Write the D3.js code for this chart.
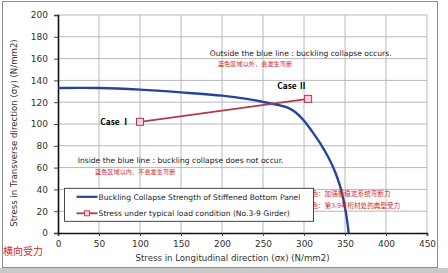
<!DOCTYPE html>
<html>
<head>
<meta charset="utf-8">
<script src="https://cdn.jsdelivr.net/npm/d3@7"></script>
<style>
  body { margin: 0; background: #fff; }
  text { font-family: "DejaVu Sans", Verdana, sans-serif; }
</style>
</head>
<body>
<div id="chart"></div>
<script>
// data
var strengthX = [0, 50, 100, 150, 200, 230, 255, 280, 290, 300, 310, 320, 330, 338, 344, 348, 351, 353, 354.5];
var strengthY = [133, 133, 131.5, 129, 126, 123, 119.5, 115, 110.5, 103, 93, 82, 69, 56, 43, 31, 19, 9, 0];
var loadX = [100, 305];
var loadY = [102, 123];
var caseLabels = ["Case  Ⅰ", "Case  Ⅱ"];
var xTicks = [0, 50, 100, 150, 200, 250, 300, 350, 400, 450];
var yTicks = [0, 20, 40, 60, 80, 100, 120, 140, 160, 180, 200];
var legendNames = ["Buckling Collapse Strength of Stiffened Bottom Panel",
                   "Stress under typical load condition (No.3-9 Girder)"];

var W = 448, H = 273;
var margin = {top: 15, right: 21, bottom: 40, left: 58},
    width = W - margin.left - margin.right,
    height = 233 - margin.top;

var blue = "#24469a", red = "#b5384a", redText = "#d22a2a";
var cjk = "'Noto Sans CJK SC', sans-serif";

var root = d3.select("#chart").append("svg")
    .attr("width", W).attr("height", H);

// gray band at the very bottom and outer frame
root.append("rect").attr("x", 0).attr("y", 268).attr("width", W).attr("height", 5).attr("fill", "#c9c9c9");
root.append("rect").attr("x", 2.5).attr("y", 1.5).attr("width", 435).attr("height", 266)
    .attr("fill", "none").attr("stroke", "#8c8c8c").attr("stroke-width", 1);

var svg = root.append("g")
    .attr("transform", "translate(" + margin.left + "," + margin.top + ")");

var x = d3.scaleLinear().domain([0, 450]).range([0, width]);
var y = d3.scaleLinear().domain([0, 200]).range([height, 0]);

// grid
svg.append("g").selectAll("line").data(xTicks.slice(1)).enter().append("line")
    .attr("x1", d => x(d)).attr("x2", d => x(d)).attr("y1", 0).attr("y2", height)
    .attr("stroke", "#b8b8b8");
svg.append("g").selectAll("line").data(yTicks.slice(1)).enter().append("line")
    .attr("x1", 0).attr("x2", width).attr("y1", d => y(d)).attr("y2", d => y(d))
    .attr("stroke", "#b8b8b8");

// axes
var xAxis = svg.append("g").attr("transform", "translate(0," + height + ")")
    .call(d3.axisBottom(x).tickValues(xTicks).tickSize(3).tickPadding(5));
var yAxis = svg.append("g")
    .call(d3.axisLeft(y).tickValues(yTicks).tickSize(4).tickPadding(6));
[xAxis, yAxis].forEach(function(a) {
  a.select(".domain").attr("stroke", "#111").attr("stroke-width", 1.6);
  a.selectAll(".tick line").attr("stroke", "#444");
  a.selectAll("text").attr("font-size", 9).attr("fill", "#333")
    .style("font-family", "'DejaVu Sans', sans-serif");
});

// axis titles
svg.append("text").attr("x", x(225) - 10).attr("y", height + 28)
    .attr("text-anchor", "middle").attr("font-size", 8.6).attr("fill", "#333")
    .text("Stress in Longitudinal direction  (σx)   (N/mm2)");
root.append("text").attr("transform", "translate(17,133) rotate(-90)")
    .attr("text-anchor", "middle").attr("font-size", 8.6).attr("fill", "#333")
    .text("Stress in Transverse direction  (σy)      (N/mm2)");
root.append("text").attr("x", 3).attr("y", 255).attr("font-size", 10)
    .attr("fill", redText).style("font-family", cjk).text("横向受力");

// curves
var strength = strengthX.map((d, i) => [d, strengthY[i]]);
var load = loadX.map((d, i) => [d, loadY[i]]);

svg.append("path").datum(strength)
    .attr("d", d3.line().x(d => x(d[0])).y(d => y(d[1])).curve(d3.curveCatmullRom.alpha(0.5)))
    .attr("fill", "none").attr("stroke", blue).attr("stroke-width", 2.4);
svg.append("path").datum(load)
    .attr("d", d3.line().x(d => x(d[0])).y(d => y(d[1])))
    .attr("fill", "none").attr("stroke", red).attr("stroke-width", 1.8);
svg.selectAll(".mk").data(load).enter().append("rect")
    .attr("x", d => x(d[0]) - 3.5).attr("y", d => y(d[1]) - 3.5)
    .attr("width", 7).attr("height", 7)
    .attr("fill", "#f6d2dc").attr("stroke", red).attr("stroke-width", 1);

// case labels
svg.append("text").attr("x", x(loadX[0]) - 10).attr("y", y(loadY[0]) + 3)
    .attr("text-anchor", "end").attr("font-size", 8.4).attr("font-weight", "bold")
    .style("font-family", cjk).text(caseLabels[0]);
svg.append("text").attr("x", x(loadX[1]) - 16).attr("y", y(loadY[1]) - 10)
    .attr("text-anchor", "middle").attr("font-size", 8.4).attr("font-weight", "bold")
    .style("font-family", cjk).text(caseLabels[1]);

// annotations
svg.append("text").attr("x", x(185)).attr("y", y(165) + 3)
    .attr("font-size", 7.6).attr("fill", "#222")
    .text("Outside the blue line : buckling collapse occurs.");
svg.append("text").attr("x", x(195)).attr("y", y(157) + 4)
    .attr("font-size", 6.2).attr("fill", redText).style("font-family", cjk)
    .text("蓝色区域以外，会发生弯断");
svg.append("text").attr("x", x(24)).attr("y", y(67) + 3)
    .attr("font-size", 7.6).attr("fill", "#222")
    .text("Inside the blue line : buckling collapse does not occur.");
svg.append("text").attr("x", x(45)).attr("y", y(58) + 4)
    .attr("font-size", 6.2).attr("fill", redText).style("font-family", cjk)
    .text("蓝色区域以内，不会发生弯断");
svg.append("text").attr("x", x(301)).attr("y", y(36) + 2)
    .attr("font-size", 6.6).attr("fill", redText).style("font-family", cjk)
    .text("蓝色：加强板稳定系统弯断力");
svg.append("text").attr("x", x(301)).attr("y", y(25) + 2)
    .attr("font-size", 6.6).attr("fill", redText).style("font-family", cjk)
    .text("红色：第3-9号桁材处的典型受力");

// legend
var lg = svg.append("g").attr("transform", "translate(" + (x(8)) + "," + y(41) + ")");
lg.append("rect").attr("x", 0).attr("y", 0).attr("width", 249).attr("height", 33)
    .attr("fill", "#fff").attr("stroke", "#333").attr("stroke-width", 0.9);
lg.append("line").attr("x1", 12).attr("x2", 33).attr("y1", 8.5).attr("y2", 8.5)
    .attr("stroke", blue).attr("stroke-width", 2.2);
lg.append("line").attr("x1", 12).attr("x2", 33).attr("y1", 25).attr("y2", 25)
    .attr("stroke", red).attr("stroke-width", 1.8);
lg.append("rect").attr("x", 20).attr("y", 22.5).attr("width", 5).attr("height", 5)
    .attr("fill", "#f6d2dc").attr("stroke", red).attr("stroke-width", 0.9);
legendNames.forEach(function(n, i) {
  lg.append("text").attr("x", 34).attr("y", (i ? 25 : 8.5) + 3)
    .attr("font-size", 7.6).attr("fill", "#222").text(n);
});
</script>
</body>
</html>
